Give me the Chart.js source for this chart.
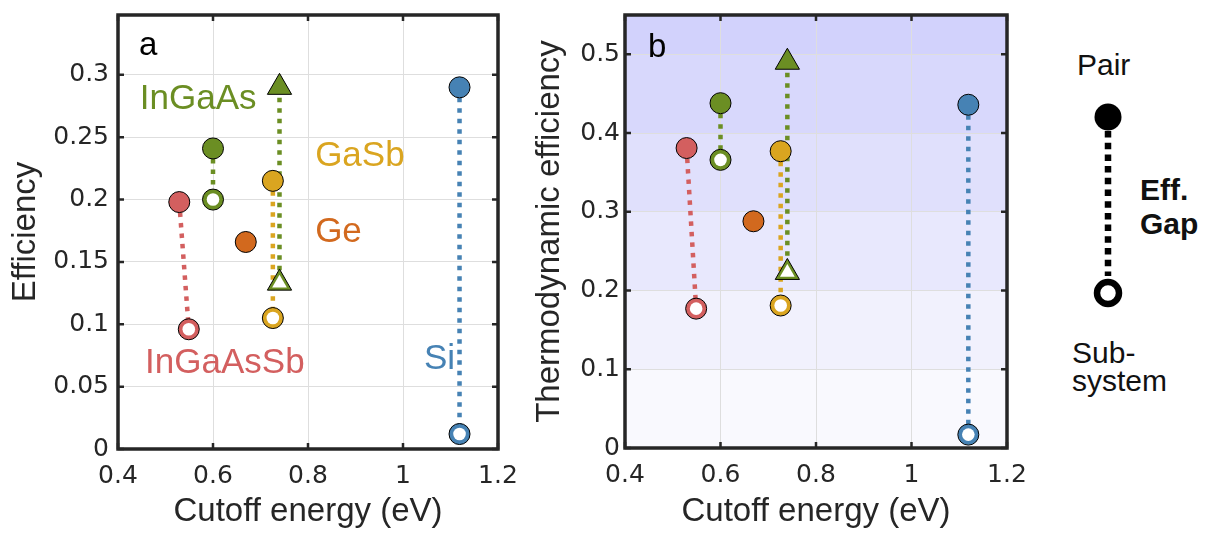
<!DOCTYPE html>
<html>
<head>
<meta charset="utf-8">
<script src="https://cdn.jsdelivr.net/npm/chart.js@4.4.1/dist/chart.umd.min.js"></script>
<style>
  body { margin: 0; background: #fff; width: 1217px; height: 536px; overflow: hidden; position: relative;
         font-family: "Liberation Sans", Arial, sans-serif; }
  .box { position: absolute; top: 0; height: 536px; }
  #boxA { left: 0; width: 520px; }
  #boxB { left: 520px; width: 510px; }
  #key { position: absolute; left: 1030px; top: 0; }
  #key text { font-family: "Liberation Sans", Arial, sans-serif; fill: #111; }
</style>
</head>
<body>
<div class="box" id="boxA"><canvas id="chartA" width="520" height="536"></canvas></div>
<div class="box" id="boxB"><canvas id="chartB" width="510" height="536"></canvas></div>
<svg id="key" width="187" height="536">
  <text x="47" y="75" font-size="30">Pair</text>
  <line x1="78" y1="131" x2="78" y2="276" stroke="#000" stroke-width="6.5" stroke-dasharray="6.5 5.2"/>
  <circle cx="78" cy="117" r="13.5" fill="#000"/>
  <circle cx="78" cy="293" r="11" fill="#fff" stroke="#000" stroke-width="6.5"/>
  <text x="110" y="200" font-size="30" font-weight="bold">Eff.</text>
  <text x="110" y="234" font-size="30" font-weight="bold">Gap</text>
  <text x="42" y="363" font-size="30">Sub-</text>
  <text x="42" y="391" font-size="30">system</text>
</svg>
<script>
// one entry per material pair (InGaAs appears twice: circle pair and triangle pair)
const materials = ['InGaAsSb', 'InGaAs', 'InGaAs', 'GaSb', 'Ge', 'Si'];
const pairCutoff = [0.529, 0.600, 0.740, 0.726, 0.669, 1.119];
const subCutoff = [0.549, 0.600, 0.740, 0.726, null, 1.119];
const pairEffA = [0.198, 0.241, 0.290, 0.215, 0.166, 0.290];
const subEffA = [0.096, 0.200, 0.133, 0.105, null, 0.012];
const pairEffB = [0.381, 0.438, 0.490, 0.377, 0.288, 0.436];
const subEffB = [0.177, 0.366, 0.223, 0.181, null, 0.017];

const xTicks = [0.4, 0.6, 0.8, 1, 1.2];
const yTicksA = [0, 0.05, 0.1, 0.15, 0.2, 0.25, 0.3];
const yTicksB = [0, 0.1, 0.2, 0.3, 0.4, 0.5];
const xRange = [0.4, 1.2];
const yMaxA = 0.348;
const yMaxB = 0.55;

// text labels in panel a (data coordinates: left edge, vertical middle)
const labelText = ['InGaAsSb', 'InGaAs', 'GaSb', 'Ge', 'Si'];
const labelX = [0.457, 0.446, 0.815, 0.815, 1.044];
const labelY = [0.069, 0.280, 0.235, 0.174, 0.072];

const materialColors = ['#d35f5f', '#6b8e23', '#6b8e23', '#daa520', '#d2691e', '#4682b4'];
const labelColors = ['#d35f5f', '#6b8e23', '#daa520', '#d2691e', '#4682b4'];
const markerShapes = ['circle', 'circle', 'triangle', 'circle', 'circle', 'circle'];
const bandColors = ['#f9f9fe', '#f1f1fd', '#e8e8fd', '#e0e0fc', '#d8d8fc', '#d2d2fc'];
const ink = '#262626';
const tickFont = {family: '"DejaVu Sans", sans-serif', size: 25, lineHeight: 1};

const framePlugin = {
  id: 'frame',
  beforeDraw(chart, args, opts) {
    if (!opts.bandColors) return;
    const {ctx, chartArea: a, scales: {y}} = chart;
    const edges = opts.bandEdges;
    ctx.save();
    opts.bandColors.forEach((c, i) => {
      const top = y.getPixelForValue(edges[i + 1]);
      const bot = y.getPixelForValue(edges[i]);
      ctx.fillStyle = c;
      ctx.fillRect(a.left, top, a.right - a.left, bot - top);
    });
    ctx.restore();
  },
  afterDraw(chart, args, opts) {
    const {ctx, chartArea: a, scales: {x, y}} = chart;
    ctx.save();
    ctx.textBaseline = 'middle';
    ctx.textAlign = 'left';
    opts.labels.forEach(l => {
      ctx.font = l.font;
      ctx.fillStyle = l.color;
      ctx.fillText(l.text, x.getPixelForValue(l.x), y.getPixelForValue(l.y));
    });
    // inward ticks on all four sides, MATLAB style
    ctx.strokeStyle = ink;
    ctx.lineWidth = 2.5;
    ctx.beginPath();
    x.ticks.forEach(t => {
      const px = x.getPixelForValue(t.value);
      ctx.moveTo(px, a.bottom); ctx.lineTo(px, a.bottom - 6);
      ctx.moveTo(px, a.top); ctx.lineTo(px, a.top + 6);
    });
    y.ticks.forEach(t => {
      const py = y.getPixelForValue(t.value);
      ctx.moveTo(a.left, py); ctx.lineTo(a.left + 6, py);
      ctx.moveTo(a.right, py); ctx.lineTo(a.right - 6, py);
    });
    ctx.stroke();
    ctx.lineWidth = 3.5;
    ctx.strokeRect(a.left, a.top, a.right - a.left, a.bottom - a.top);
    ctx.restore();
  }
};

function makeChart(id, pairEff, subEff, yTicks, yMax, yTitle, s) {
  const outerR = shape => shape === 'triangle' ? 14 : 10.5;
  const innerR = shape => shape === 'triangle' ? 8.5 : 6.3;
  const pairPts = pairCutoff.map((x, i) => ({x, y: pairEff[i]}));
  const subIdx = subCutoff.map((x, i) => i).filter(i => subCutoff[i] !== null);
  const subPts = subIdx.map(i => ({x: subCutoff[i], y: subEff[i]}));

  const datasets = [
    {
      data: subPts,
      pointStyle: subIdx.map(i => markerShapes[i]),
      pointRadius: subIdx.map(i => innerR(markerShapes[i])),
      pointBackgroundColor: '#fff',
      pointBorderWidth: 0
    },
    {
      data: subPts,
      pointStyle: subIdx.map(i => markerShapes[i]),
      pointRadius: subIdx.map(i => outerR(markerShapes[i])),
      pointBackgroundColor: subIdx.map(i => materialColors[i]),
      pointBorderColor: '#000',
      pointBorderWidth: 1
    },
    {
      data: pairPts,
      pointStyle: markerShapes,
      pointRadius: markerShapes.map(outerR),
      pointBackgroundColor: materialColors,
      pointBorderColor: '#000',
      pointBorderWidth: 1
    },
    ...subIdx.map(i => ({
      data: [pairPts[i], {x: subCutoff[i], y: subEff[i]}],
      showLine: true,
      borderColor: materialColors[i],
      borderWidth: 4.5,
      borderDash: [4.5, 6],
      pointRadius: 0
    }))
  ];
  datasets.forEach(d => { d.clip = false; });

  const labels = s.labels.concat([{text: s.letter, x: s.letterX, y: s.letterY, color: '#000', font: '33px "Liberation Sans", Arial, sans-serif'}]);

  return new Chart(document.getElementById(id), {
    type: 'scatter',
    data: {datasets},
    plugins: [framePlugin],
    options: {
      responsive: false,
      animation: false,
      events: [],
      layout: {padding: {left: 0, top: s.padTop, right: s.padRight, bottom: 0}},
      plugins: {
        legend: {display: false},
        tooltip: {enabled: false},
        frame: {labels, bandColors: s.bandColors, bandEdges: s.bandEdges}
      },
      scales: {
        x: {
          type: 'linear',
          min: xRange[0],
          max: xRange[1],
          afterBuildTicks: sc => { sc.ticks = xTicks.map(v => ({value: v})); },
          afterFit: sc => { sc.height = s.axisHeight; sc.paddingLeft = 0; sc.paddingRight = 0; },
          grid: {color: '#dedede', lineWidth: 1, drawTicks: false},
          border: {display: false},
          ticks: {
            color: ink, padding: 15, maxRotation: 0, autoSkip: false,
            font: tickFont,
            callback: v => String(v)
          },
          title: {
            display: true, text: 'Cutoff energy (eV)', color: ink,
            padding: {top: 0, bottom: 8},
            font: {family: '"Liberation Sans", Arial, sans-serif', size: 33, lineHeight: 1}
          }
        },
        y: {
          type: 'linear',
          min: 0,
          max: yMax,
          afterBuildTicks: sc => { sc.ticks = yTicks.map(v => ({value: v})); },
          afterFit: sc => { sc.width = s.axisWidth; sc.paddingTop = 0; sc.paddingBottom = 0; },
          grid: {color: '#dedede', lineWidth: 1, drawTicks: false},
          border: {display: false},
          ticks: {
            color: ink, padding: s.yTickPad, autoSkip: false,
            font: tickFont,
            callback: v => String(v)
          },
          title: {
            display: true, text: yTitle, color: ink,
            padding: {top: s.titlePad, bottom: 0},
            font: {family: '"Liberation Sans", Arial, sans-serif', size: 33, lineHeight: 1}
          }
        }
      }
    }
  });
}

const annotationsA = labelText.map((t, i) => ({
  text: t, x: labelX[i], y: labelY[i], color: labelColors[i],
  font: '35px "Liberation Sans", Arial, sans-serif'
}));

makeChart('chartA', pairEffA, subEffA, yTicksA, yMaxA, 'Efficiency', {
  axisWidth: 118, axisHeight: 87, padTop: 10, padRight: 22, yTickPad: 9, titlePad: 9,
  labels: annotationsA, letter: 'a', letterX: 0.444, letterY: 0.323
});

makeChart('chartB', pairEffB, subEffB, yTicksB, yMaxB, 'Thermodynamic efficiency', {
  axisWidth: 105, axisHeight: 88, padTop: 8, padRight: 23, yTickPad: 5, titlePad: 13,
  labels: [], letter: 'b', letterX: 0.448, letterY: 0.508,
  bandColors, bandEdges: yTicksB.concat([yMaxB])
});
</script>
</body>
</html>
